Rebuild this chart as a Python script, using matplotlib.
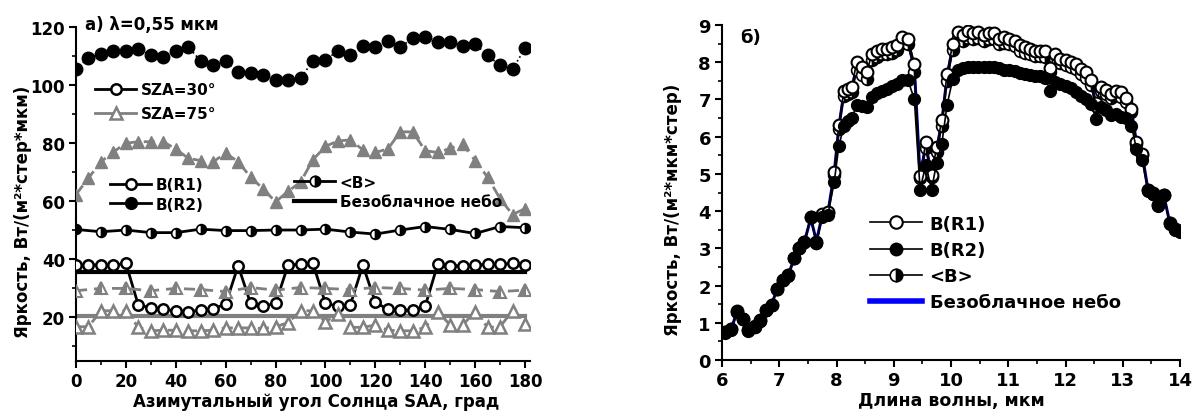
import matplotlib
matplotlib.use("Agg")
import matplotlib.pyplot as plt
from matplotlib.lines import Line2D
from matplotlib.ticker import MultipleLocator

plt.rcParams['font.family'] = ['DejaVu Sans']
plt.rcParams['font.weight'] = 'bold'

# ---------------- panel a data ----------------
saa = list(range(0, 181, 5))
saa10 = list(range(0, 181, 10))
b_r2_30 = [105.7, 109.3, 110.8, 111.9, 111.7, 112.5, 110.2, 109.7, 111.7, 113.1,
           108.3, 106.8, 108.2, 104.6, 104.0, 103.4, 101.7, 101.7, 102.5, 108.2,
           108.5, 111.9, 110.4, 113.6, 113.1, 115.3, 113.1, 116.1, 116.5, 115.0,
           115.0, 113.6, 114.2, 110.2, 106.8, 105.4, 112.7]
b_r1_30 = [38.0, 38.0, 38.2, 38.0, 38.6, 24.2, 23.4, 22.8, 22.3, 22.0,
           22.5, 23.0, 24.6, 37.8, 24.8, 23.9, 24.8, 38.0, 38.3, 38.6,
           24.8, 23.9, 24.4, 38.0, 25.2, 22.8, 22.5, 22.5, 23.9, 38.3,
           37.8, 37.8, 38.0, 38.3, 38.3, 38.6, 38.0]
b_r2_75 = [62.3, 68.0, 73.6, 77.0, 80.0, 80.5, 80.5, 80.5, 78.0, 74.8,
           74.0, 73.6, 76.6, 73.6, 68.3, 64.3, 59.8, 63.4, 66.6, 74.3,
           78.9, 80.8, 81.1, 77.7, 76.8, 78.0, 83.9, 83.9, 77.4, 76.8,
           78.2, 79.7, 74.0, 68.3, 60.9, 55.4, 57.5]
b_r1_75 = [16.8, 16.8, 22.3, 22.3, 22.3, 16.6, 15.4, 15.6, 15.6, 15.4,
           15.4, 15.6, 16.4, 16.4, 16.4, 16.2, 16.8, 18.2, 22.3, 22.3,
           18.5, 21.1, 16.6, 16.6, 17.4, 15.6, 15.4, 15.4, 16.6, 22.0,
           17.4, 17.4, 22.0, 16.6, 16.8, 22.3, 17.7]
mean_30 = [50.3, 49.5, 50.1, 49.2, 49.2, 50.4, 49.9, 49.9, 50.1, 50.1,
           50.4, 49.4, 48.7, 50.1, 51.3, 50.3, 48.9, 51.3, 50.9]
mean_75 = [29.2, 30.0, 30.0, 29.2, 30.0, 29.6, 28.9, 30.3, 29.4, 30.3,
           30.0, 29.6, 30.3, 30.0, 29.4, 30.0, 29.6, 28.9, 29.4]
clear_x = [0, 180]
clear_30 = [35.8, 35.8]
clear_75 = [20.6, 20.6]

# ---------------- panel b data ----------------
wl = [6.05, 6.16, 6.26, 6.37, 6.45, 6.57, 6.67, 6.77, 6.87, 6.96,
      7.06, 7.16, 7.26, 7.35, 7.44, 7.55, 7.65, 7.75, 7.85, 7.96,
      8.04, 8.13, 8.20, 8.27, 8.35, 8.44, 8.53, 8.62, 8.70, 8.80,
      8.88, 8.97, 9.05, 9.14, 9.25, 9.36, 9.46, 9.56, 9.66, 9.75,
      9.84, 9.93, 10.03, 10.12, 10.21, 10.30, 10.39, 10.48, 10.57, 10.66,
      10.75, 10.84, 10.93, 11.02, 11.11, 11.20, 11.29, 11.38, 11.47, 11.56,
      11.65, 11.73, 11.82, 11.91, 12.00, 12.09, 12.18, 12.27, 12.36, 12.45,
      12.53, 12.62, 12.70, 12.79, 12.88, 12.97, 13.06, 13.15, 13.24, 13.34,
      13.44, 13.53, 13.62, 13.72, 13.82, 13.92, 14.00]
sp_r2 = [0.73, 0.81, 1.30, 1.09, 0.79, 0.90, 1.06, 1.34, 1.48, 1.91,
         2.15, 2.27, 2.73, 3.00, 3.16, 3.84, 3.14, 3.84, 3.90, 4.78,
         5.74, 6.30, 6.42, 6.50, 6.85, 6.83, 6.79, 7.06, 7.18, 7.22,
         7.28, 7.35, 7.42, 7.51, 7.51, 7.00, 4.58, 5.25, 4.58, 5.30,
         5.81, 6.84, 7.55, 7.80, 7.84, 7.87, 7.88, 7.88, 7.87, 7.86,
         7.87, 7.84, 7.80, 7.78, 7.76, 7.72, 7.68, 7.66, 7.64, 7.62,
         7.58, 7.24, 7.48, 7.42, 7.35, 7.30, 7.20, 7.10, 7.00, 6.88,
         6.48, 6.80, 6.72, 6.57, 6.62, 6.52, 6.50, 6.30, 5.67, 5.36,
         4.55, 4.46, 4.15, 4.42, 3.66, 3.50, 3.45]
sp_r1 = [0.74, 0.82, 1.31, 1.10, 0.80, 0.91, 1.07, 1.35, 1.49, 1.92,
         2.16, 2.28, 2.74, 3.01, 3.17, 3.85, 3.16, 3.92, 3.97, 5.04,
         6.32, 7.24, 7.28, 7.33, 8.00, 7.86, 7.75, 8.23, 8.31, 8.36,
         8.36, 8.40, 8.47, 8.67, 8.63, 7.96, 4.95, 5.85, 4.97, 5.72,
         6.45, 7.69, 8.49, 8.81, 8.72, 8.83, 8.78, 8.81, 8.72, 8.78,
         8.78, 8.63, 8.67, 8.63, 8.58, 8.45, 8.40, 8.36, 8.31, 8.31,
         8.29, 7.85, 8.23, 8.10, 8.05, 8.00, 7.96, 7.82, 7.73, 7.51,
         6.90, 7.33, 7.25, 7.15, 7.24, 7.20, 7.05, 6.75, 5.85, 5.54,
         4.57, 4.48, 4.17, 4.44, 3.68, 3.52, 3.47]
sp_mean = [0.74, 0.82, 1.30, 1.10, 0.80, 0.90, 1.06, 1.35, 1.48, 1.91,
           2.15, 2.28, 2.73, 3.00, 3.16, 3.84, 3.15, 3.90, 3.95, 4.98,
           6.20, 7.10, 7.15, 7.20, 7.78, 7.66, 7.55, 8.05, 8.15, 8.22,
           8.22, 8.26, 8.33, 8.52, 8.48, 7.75, 4.90, 5.70, 4.92, 5.60,
           6.30, 7.50, 8.32, 8.65, 8.56, 8.66, 8.62, 8.64, 8.56, 8.62,
           8.62, 8.48, 8.52, 8.48, 8.43, 8.30, 8.26, 8.22, 8.17, 8.17,
           8.15, 7.75, 8.08, 7.97, 7.92, 7.86, 7.81, 7.68, 7.58, 7.38,
           6.82, 7.22, 7.14, 7.03, 7.11, 7.06, 6.94, 6.66, 5.81, 5.50,
           4.56, 4.47, 4.16, 4.43, 3.67, 3.51, 3.46]
sp_clear = [0.75, 0.83, 1.28, 1.08, 0.81, 0.92, 1.08, 1.36, 1.50, 1.90,
            2.16, 2.30, 2.72, 3.02, 3.18, 3.80, 3.20, 3.88, 3.96, 5.02,
            6.25, 7.18, 7.22, 7.28, 7.90, 7.78, 7.66, 8.15, 8.24, 8.30,
            8.30, 8.33, 8.40, 8.60, 8.56, 7.85, 4.93, 5.78, 4.95, 5.66,
            6.40, 7.60, 8.42, 8.74, 8.66, 8.76, 8.70, 8.74, 8.66, 8.71,
            8.71, 8.56, 8.60, 8.56, 8.51, 8.38, 8.33, 8.30, 8.25, 8.25,
            8.22, 7.80, 8.15, 8.04, 7.99, 7.93, 7.89, 7.75, 7.66, 7.45,
            6.86, 7.28, 7.20, 7.10, 7.18, 7.14, 7.00, 6.72, 5.84, 5.52,
            4.58, 4.48, 4.20, 4.40, 3.70, 3.52, 3.46]

W, H = 1192, 414
fig = plt.figure(figsize=(W / 100, H / 100), dpi=100)
GRAY = '#808080'


def px_ax(x0, y0, x1, y1):
    return [x0 / W, 1 - y1 / H, (x1 - x0) / W, (y1 - y0) / H]


def style_axes(ax, fs):
    for s in ['top', 'right']:
        ax.spines[s].set_visible(False)
    for s in ['left', 'bottom']:
        ax.spines[s].set_linewidth(1.5)
    ax.tick_params(which='major', direction='out', length=5, width=1.5, labelsize=fs, pad=3)
    ax.tick_params(which='minor', direction='out', length=3, width=1.2)
    for lab in ax.get_xticklabels() + ax.get_yticklabels():
        lab.set_fontweight('bold')


# ---------------- panel a ----------------
ax1 = fig.add_axes(px_ax(76, 28, 530, 362))
ax1.plot(clear_x, clear_30, color='black', lw=3, zorder=2)
ax1.plot(clear_x, clear_75, color=GRAY, lw=3, zorder=2)
ax1.plot(saa, b_r2_30, color='black', ls=':', lw=1.2, marker='o', ms=9,
         mfc='black', mec='black', zorder=3)
ax1.plot(saa, b_r1_30, color='black', ls='-', lw=2, marker='o', ms=7.5,
         mfc='white', mec='black', mew=1.8, zorder=3)
ax1.plot(saa10, mean_30, color='black', ls='-', lw=2, marker='o', ms=7,
         fillstyle='right', mfc='black', mfcalt='white', mec='black', mew=1.2, zorder=4)
ax1.plot(saa, b_r2_75, color=GRAY, ls=(0, (4, 2.5)), lw=2, marker='^', ms=9,
         mfc=GRAY, mec=GRAY, zorder=3)
ax1.plot(saa, b_r1_75, color=GRAY, ls=(0, (4, 2.5)), lw=2, marker='^', ms=8.5,
         mfc='white', mec=GRAY, mew=1.8, zorder=3)
ax1.plot(saa10, mean_75, color=GRAY, ls=(0, (4, 2.5)), lw=2, marker='^', ms=8.5,
         fillstyle='left', mfc=GRAY, mfcalt='white', mec=GRAY, mew=1.5, zorder=4)
ax1.set_xlim(0, 182)
ax1.set_ylim(5, 120)
ax1.xaxis.set_major_locator(MultipleLocator(20))
ax1.xaxis.set_minor_locator(MultipleLocator(10))
ax1.yaxis.set_major_locator(MultipleLocator(20))
ax1.yaxis.set_minor_locator(MultipleLocator(10))
ax1.set_yticks([20, 40, 60, 80, 100, 120])
style_axes(ax1, 12)
ax1.set_xlabel('Азимутальный угол Солнца SAA, град', fontsize=12, fontweight='bold')
ax1.xaxis.set_label_coords(0.53, -0.093)
ax1.set_ylabel('Яркость, Вт/(м²*стер*мкм)', fontsize=12, fontweight='bold')
ax1.yaxis.set_label_coords(-0.098, 0.45)
fig.text(85 / W, 1 - 25 / H, 'a) λ=0,55 мкм', fontsize=12, fontweight='bold', va='center', ha='left')

leg_kw = dict(frameon=False, borderpad=0, borderaxespad=0, handlelength=2.7,
              handletextpad=0.3, bbox_transform=fig.transFigure,
              prop={'weight': 'bold', 'size': 11})
hA = [Line2D([], [], color='black', lw=2, marker='o', ms=7.5, mfc='white', mec='black', mew=1.8),
      Line2D([], [], color=GRAY, lw=2, marker='^', ms=8.5, mfc='white', mec=GRAY, mew=1.8)]
legA = ax1.legend(hA, ['SZA=30°', 'SZA=75°'], loc='center left',
                  bbox_to_anchor=(95 / W, 1 - 102.5 / H), labelspacing=0.6, **leg_kw)
ax1.add_artist(legA)
hB = [Line2D([], [], color='black', lw=2, marker='o', ms=7.5, mfc='white', mec='black', mew=1.8),
      Line2D([], [], color='black', lw=2, marker='o', ms=8.5, mfc='black', mec='black')]
legB = ax1.legend(hB, ['B(R1)', 'B(R2)'], loc='center left',
                  bbox_to_anchor=(110 / W, 1 - 195.5 / H), labelspacing=0.3, **leg_kw)
ax1.add_artist(legB)
hC = [Line2D([], [], color='black', lw=2, marker='o', ms=7.5, fillstyle='right',
             mfc='black', mfcalt='white', mec='black', mew=1.2),
      Line2D([], [], color='black', lw=3)]
legC = ax1.legend(hC, ['<B>', 'Безоблачное небо'], loc='center left',
                  bbox_to_anchor=(294 / W, 1 - 193 / H), labelspacing=0.3, **leg_kw)

# ---------------- panel b ----------------
ax2 = fig.add_axes(px_ax(722, 26, 1180, 361))
ax2.plot(wl, sp_clear, color='#0000ff', lw=2.2, zorder=2)
ax2.plot(wl, sp_mean, color='black', lw=1.2, marker='o', ms=8.5, fillstyle='right',
         mfc='black', mfcalt='white', mec='black', mew=1.2, zorder=3)
ax2.plot(wl, sp_r1, color='black', lw=1.2, marker='o', ms=8.5, mfc='white',
         mec='black', mew=1.5, zorder=4)
ax2.plot(wl, sp_r2, color='black', lw=1.2, marker='o', ms=8.5, mfc='black',
         mec='black', zorder=5)
ax2.set_xlim(6, 14)
ax2.set_ylim(0, 9)
ax2.xaxis.set_major_locator(MultipleLocator(1))
ax2.xaxis.set_minor_locator(MultipleLocator(0.5))
ax2.yaxis.set_major_locator(MultipleLocator(1))
ax2.yaxis.set_minor_locator(MultipleLocator(0.5))
style_axes(ax2, 13)
ax2.set_xlabel('Длина волны, мкм', fontsize=12.5, fontweight='bold')
ax2.xaxis.set_label_coords(0.5, -0.093)
ax2.set_ylabel('Яркость, Вт/(м²*мкм*стер)', fontsize=12, fontweight='bold')
ax2.yaxis.set_label_coords(-0.087, 0.45)
fig.text(740 / W, 1 - 38 / H, 'б)', fontsize=13, fontweight='bold', va='center', ha='left')

hD = [Line2D([], [], color='black', lw=1.2, marker='o', ms=9, mfc='white', mec='black', mew=1.5),
      Line2D([], [], color='black', lw=1.2, marker='o', ms=9, mfc='black', mec='black'),
      Line2D([], [], color='black', lw=1.2, marker='o', ms=9, fillstyle='right',
             mfc='black', mfcalt='white', mec='black', mew=1.2),
      Line2D([], [], color='#0000ff', lw=4)]
legD = ax2.legend(hD, ['B(R1)', 'B(R2)', '<B>', 'Безоблачное небо'], loc='center left',
                  bbox_to_anchor=(870 / W, 1 - 264 / H), frameon=False, borderpad=0,
                  borderaxespad=0, handlelength=2.9, handletextpad=0.4, labelspacing=0.45,
                  bbox_transform=fig.transFigure, prop={'weight': 'bold', 'size': 13})

fig.savefig('out.png', dpi=100)
